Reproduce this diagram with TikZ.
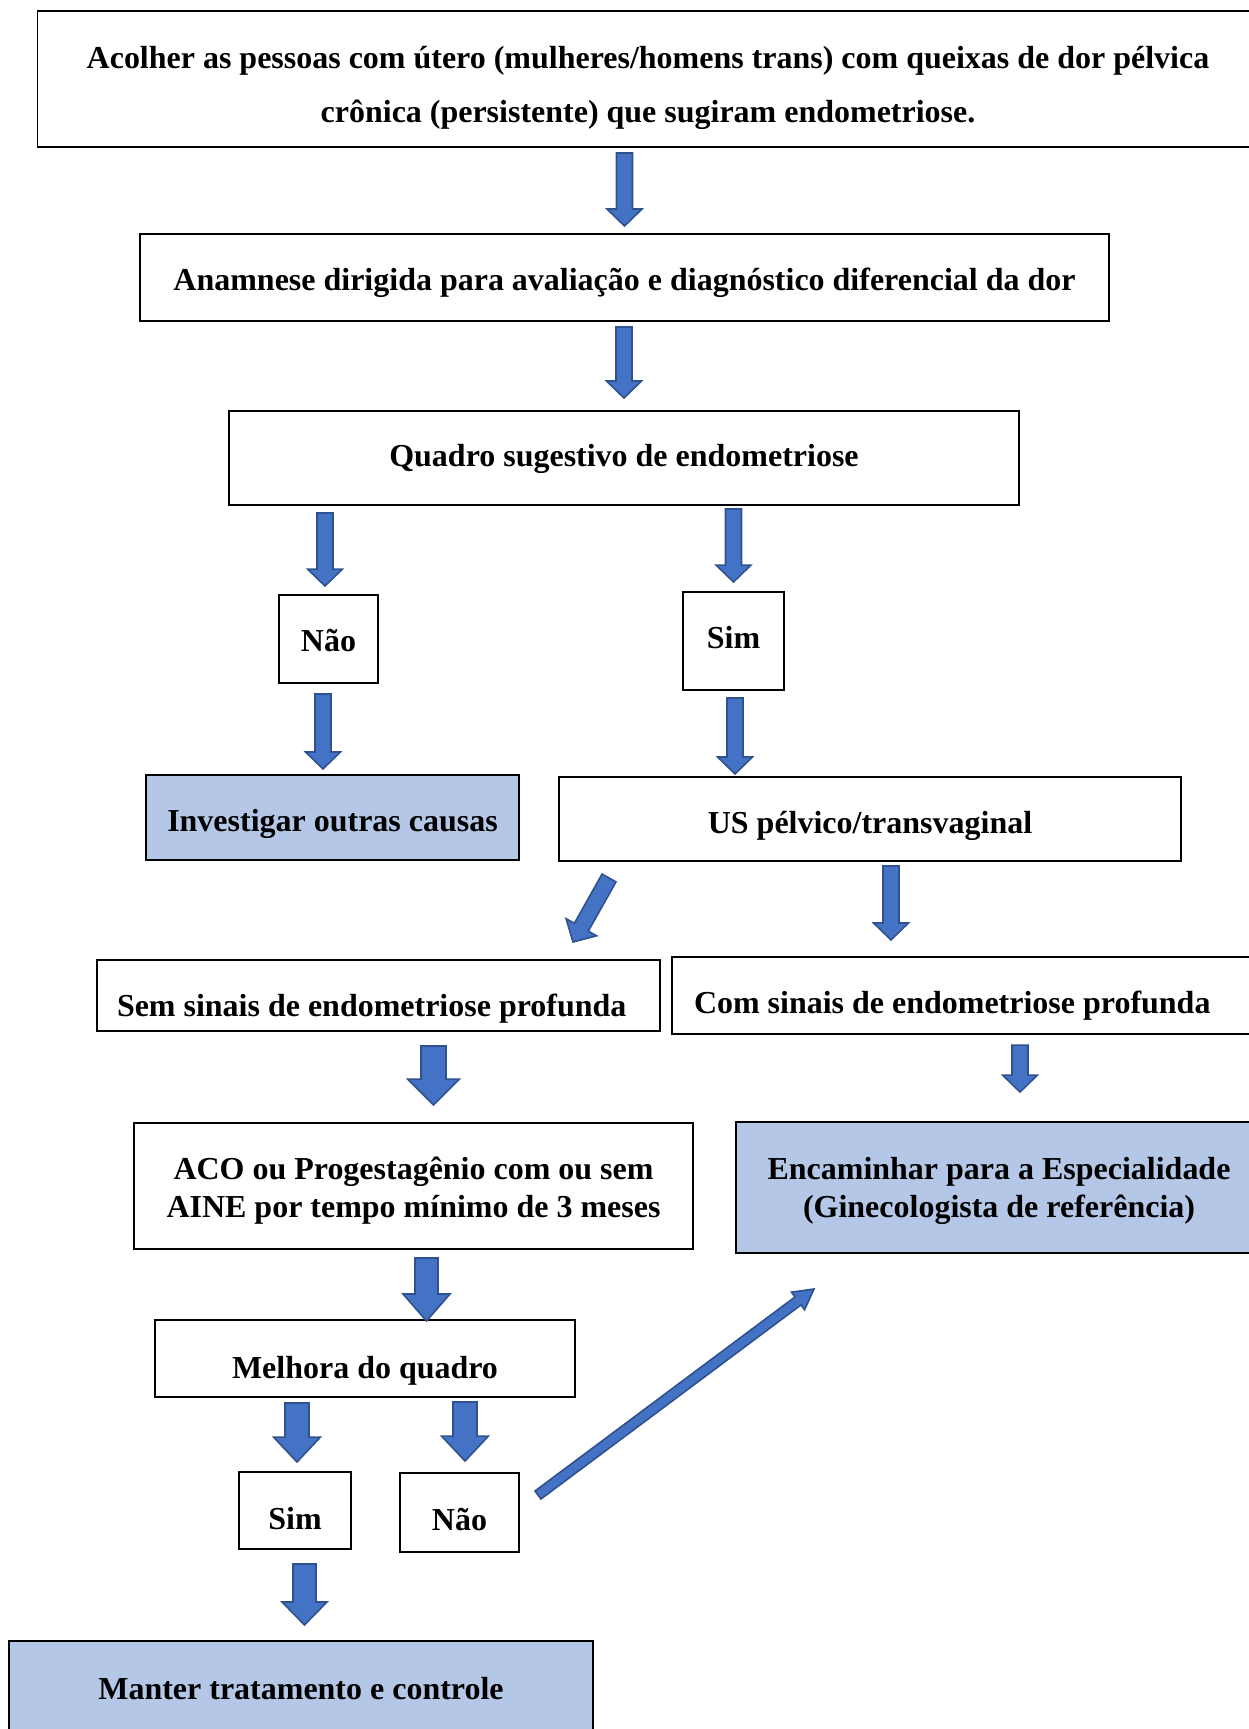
\documentclass[tikz,border=0pt]{standalone}
\usepackage{fontspec}
\setmainfont{Liberation Serif}
\usetikzlibrary{calc}

\definecolor{arrowblue}{HTML}{4472C4}
\definecolor{arrowedge}{HTML}{2F528F}
\definecolor{boxblue}{HTML}{B4C7E7}

\tikzset{
  box/.style={draw=black, line width=1.1pt, inner sep=0pt, align=center,
    font=\fontsize{18.2}{21.5}\selectfont\bfseries},
  bluebox/.style={box, fill=boxblue},
  drop/.style={text height=#1, text depth=0pt},
  blockarrow/.style={fill=arrowblue, draw=arrowedge, line width=0.9pt, line join=miter},
  shaft/.store in=\bsw, headw/.store in=\bhw, headl/.store in=\bhl,
  shaft=0.16cm, headw=0.35cm, headl=0.34cm,
  bigarrow/.style={shaft=0.24cm, headw=0.47cm, headl=0.5cm}
}

\newcommand{\topstrut}[1]{\rule{0pt}{#1}}
\newcommand{\botstrut}{\rule[-5pt]{0pt}{5pt}}

\newcommand{\blockarrow}[3][]{%
  \path #2 coordinate (ba-s) #3 coordinate (ba-e);
  \pgfpointdiff{\pgfpointanchor{ba-s}{center}}{\pgfpointanchor{ba-e}{center}}
  \pgfgetlastxy{\bdx}{\bdy}
  \pgfmathsetmacro{\bang}{atan2(\bdy,\bdx)}
  \pgfmathsetmacro{\blen}{veclen(\bdx,\bdy)}
  \begin{scope}[shift={(ba-s)}, rotate=\bang, #1]
    \filldraw[blockarrow] (0,-\bsw) -- (\blen pt-\bhl,-\bsw) -- (\blen pt-\bhl,-\bhw)
      -- (\blen pt,0) -- (\blen pt-\bhl,\bhw) -- (\blen pt-\bhl,\bsw) -- (0,\bsw) -- cycle;
  \end{scope}}

\begin{document}
\begin{tikzpicture}
\clip (0,0) rectangle (24.98,-34.58);

\node[box, minimum width=24.42cm, minimum height=2.72cm,
  font=\fontsize{18.2}{31}\selectfont\bfseries] (acolher) at (12.96,-1.58)
  {\topstrut{23.5pt}Acolher as pessoas com útero (mulheres/homens trans) com queixas de dor pélvica\\
   crônica (persistente) que sugiram endometriose.\botstrut};
\node[box, drop=14.7pt, minimum width=19.38cm, minimum height=1.74cm] (anamnese) at (12.49,-5.55)
  {Anamnese dirigida para avaliação e diagnóstico diferencial da dor};
\node[box, drop=9.8pt, minimum width=15.8cm, minimum height=1.88cm] (quadro) at (12.48,-9.16)
  {Quadro sugestivo de endometriose};
\node[box, drop=14.3pt, minimum width=1.98cm, minimum height=1.76cm] (nao1) at (6.57,-12.78) {Não};
\node[box, drop=8.3pt, minimum width=2.02cm, minimum height=1.96cm] (sim1) at (14.67,-12.82) {Sim};
\node[bluebox, drop=16pt, minimum width=7.46cm, minimum height=1.7cm] (investigar) at (6.65,-16.35)
  {Investigar outras causas};
\node[box, drop=16pt, minimum width=12.44cm, minimum height=1.68cm] (us) at (17.4,-16.38)
  {US pélvico/transvaginal};
\node[box, drop=23.5pt, align=flush left, text width=10.46cm, inner xsep=0.4cm, minimum height=1.42cm]
  (semsinais) at (7.57,-19.91) {Sem sinais de endometriose profunda};
\node[box, drop=21pt, align=flush left, text width=10.9cm, inner xsep=0.44cm, minimum height=1.54cm]
  (comsinais) at (19.33,-19.91) {Com sinais de endometriose profunda};
\node[box, minimum width=11.18cm, minimum height=2.52cm] (aco) at (8.27,-23.72)
  {\topstrut{19.5pt}ACO ou Progestagênio com ou sem\\AINE por tempo mínimo de 3 meses\botstrut};
\node[bluebox, minimum width=10.52cm, minimum height=2.62cm] (encaminhar) at (19.98,-23.75)
  {\topstrut{17.5pt}Encaminhar para a Especialidade\\(Ginecologista de referência)\botstrut};
\node[box, drop=22.3pt, minimum width=8.4cm, minimum height=1.54cm] (melhora) at (7.3,-27.17)
  {Melhora do quadro};
\node[box, drop=22.1pt, minimum width=2.24cm, minimum height=1.54cm] (sim2) at (5.9,-30.21) {Sim};
\node[box, drop=20.6pt, minimum width=2.38cm, minimum height=1.58cm] (nao2) at (9.19,-30.25) {Não};
\node[bluebox, drop=12.2pt, minimum width=11.68cm, minimum height=1.92cm] (manter) at (6.02,-33.78)
  {Manter tratamento e controle};

\blockarrow{($(acolher.south -| anamnese.north)+(0,-0.1)$)}{($(anamnese.north)+(0,0.14)$)}
\blockarrow{($(anamnese.south -| quadro.north)+(0,-0.1)$)}{($(quadro.north)+(0,0.24)$)}
\blockarrow{($(quadro.south -| nao1.north)+(-0.07,-0.14)$)}{($(nao1.north)+(-0.07,0.16)$)}
\blockarrow{($(quadro.south -| sim1.north)+(0,-0.06)$)}{($(sim1.north)+(0,0.18)$)}
\blockarrow{($(nao1.south)+(-0.11,-0.2)$)}{($(nao1.south)+(-0.11,-1.7)$)}
\blockarrow{($(sim1.south)+(0.03,-0.14)$)}{($(sim1.south)+(0.03,-1.66)$)}
\blockarrow{($(us.south west)+(1.02,-0.32)$)}{($(semsinais.north east)+(-1.76,0.34)$)}
\blockarrow{($(us.south)+(0.42,-0.08)$)}{($(us.south)+(0.42,-1.56)$)}
\blockarrow[shaft=0.25cm, headw=0.52cm, headl=0.52cm]{($(semsinais.south -| aco.north)+(0.4,-0.28)$)}{($(aco.north)+(0.4,0.34)$)}
\blockarrow{($(encaminhar.north)+(0.42,1.52)$)}{($(encaminhar.north)+(0.42,0.58)$)}
\blockarrow[bigarrow, shaft=0.23cm, headl=0.54cm]{($(aco.south)+(0.26,-0.16)$)}{($(aco.south)+(0.26,-1.42)$)}
\blockarrow[bigarrow]{($(melhora.south -| sim2.north)+(0.04,-0.1)$)}{($(sim2.north)+(0.04,0.18)$)}
\blockarrow[bigarrow]{($(melhora.south -| nao2.north)+(0.11,-0.08)$)}{($(nao2.north)+(0.11,0.22)$)}
\blockarrow[shaft=0.1cm, headw=0.22cm, headl=0.4cm]{($(nao2.east)+(0.36,0.35)$)}{($(encaminhar.south west)+(1.58,-0.7)$)}
\blockarrow[bigarrow, shaft=0.23cm, headw=0.45cm, headl=0.46cm]{($(sim2.south)+(0.19,-0.28)$)}{($(sim2.south)+(0.19,-1.5)$)}

\end{tikzpicture}
\end{document}
